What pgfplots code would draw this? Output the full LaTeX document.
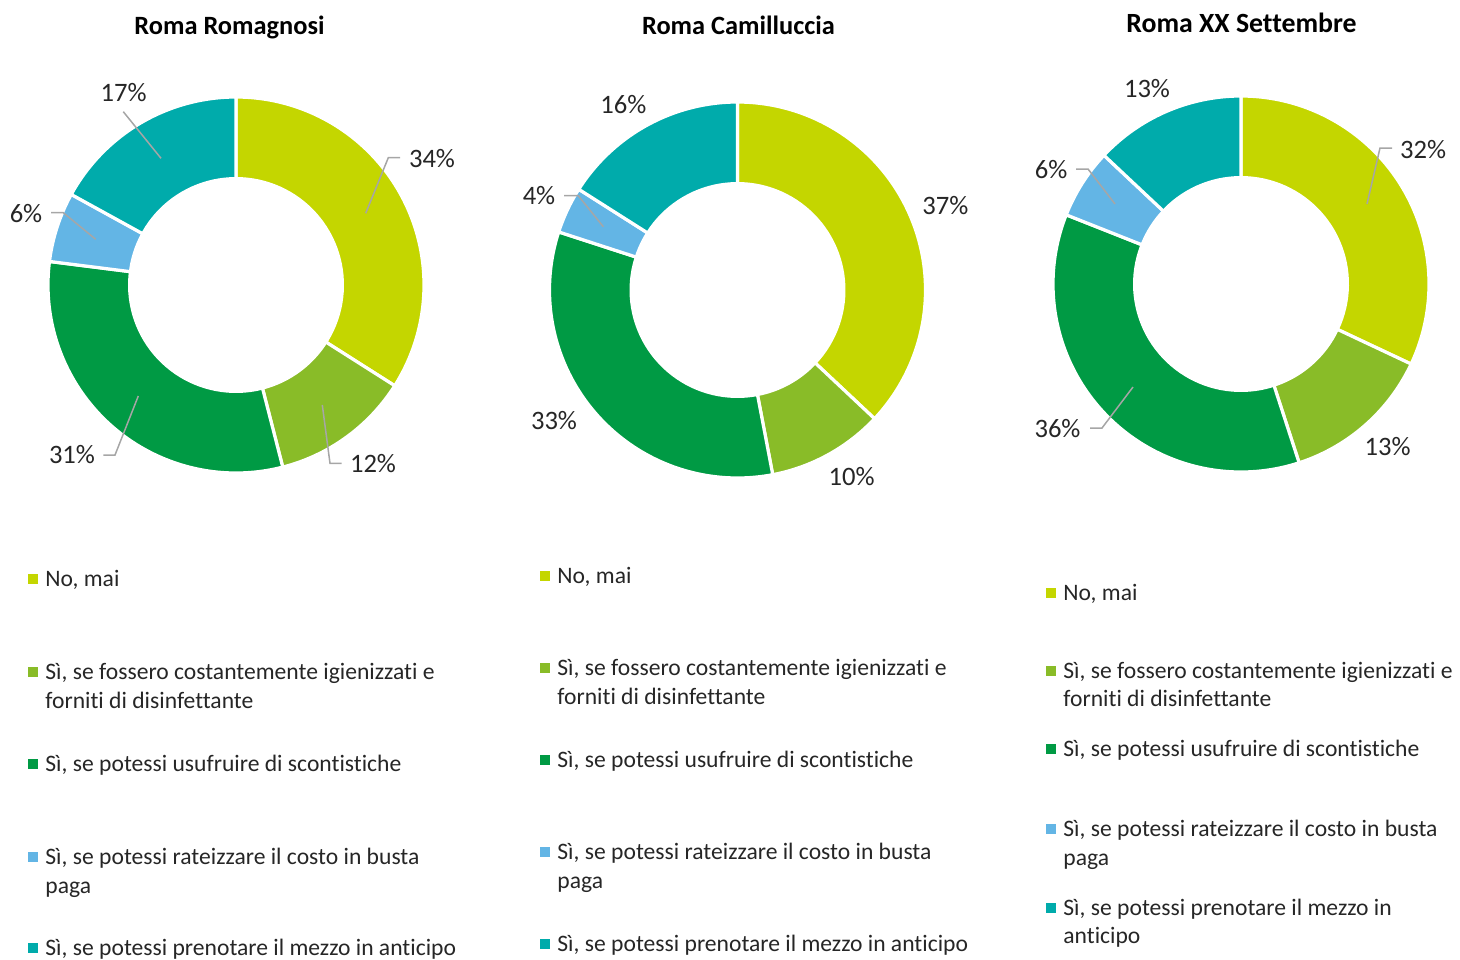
\documentclass[border=0pt]{standalone}
\usepackage{pgfplots}
\pgfplotsset{compat=1.18}
\usepackage{fontspec}
\setmainfont{Carlito}[Ligatures={NoCommon,NoContextual}]
\definecolor{cA}{HTML}{C4D600}
\definecolor{cB}{HTML}{89BC28}
\definecolor{cC}{HTML}{009A44}
\definecolor{cD}{HTML}{63B5E5}
\definecolor{cE}{HTML}{00ABAB}
\definecolor{txt}{HTML}{262626}
\definecolor{lead}{HTML}{A6A6A6}
\newcommand\slice[5]{%
  \edef\tmp{\noexpand\addplot[fill=#5, draw=white, line width=1.6pt, domain=#3:#4, samples=90]
    ({#1+188*sin(x)},{#2-188*cos(x)}) -- (#1,#2) -- cycle;}\tmp}
% \donut{cx}{cy}{No mai}{igienizzati}{scontistiche}{rateizzare}{prenotare}
\newcommand\donut[7]{%
  \pgfmathsetmacro\aA{0}%
  \pgfmathsetmacro\aB{3.6*#3}%
  \pgfmathsetmacro\aC{\aB+3.6*#4}%
  \pgfmathsetmacro\aD{\aC+3.6*#5}%
  \pgfmathsetmacro\aE{\aD+3.6*#6}%
  \pgfmathsetmacro\aF{\aE+3.6*#7}%
  \slice{#1}{#2}{\aA}{\aB}{cA}%
  \slice{#1}{#2}{\aB}{\aC}{cB}%
  \slice{#1}{#2}{\aC}{\aD}{cC}%
  \slice{#1}{#2}{\aD}{\aE}{cD}%
  \slice{#1}{#2}{\aE}{\aF}{cE}%
  \addplot[fill=white, draw=none, domain=0:360, samples=120] ({#1+108*sin(x)},{#2-108*cos(x)}) -- cycle;
}
\newcommand\legsq[3]{\addplot[only marks, mark=square*, mark size=2.25pt, color=#3] coordinates {(#1,#2)};}
\tikzset{lg/.style={anchor=base west, inner sep=0pt, text=txt, font=\fontsize{11.8}{14}\selectfont},
  pc/.style={anchor=base, inner sep=0pt, text=txt, font=\fontsize{13.3}{16}\selectfont},
  tt/.style={anchor=base, inner sep=0pt, text=black, font=\fontsize{13.2}{16}\selectfont\bfseries}}
\begin{document}
\begin{tikzpicture}
\begin{axis}[scale only axis, width=730pt, height=479.5pt, xmin=0, xmax=1460, ymin=0, ymax=959,
  y dir=reverse, hide axis, clip=false]
\coordinate (BL) at (axis cs:0,959);
\coordinate (TR) at (axis cs:1460,0);
% ---------- Roma Romagnosi ----------
\donut{236}{285}{34}{12}{31}{6}{17}
\addplot[lead, line width=0.75pt] coordinates {(365.7,213.3) (388.3,157.7) (400,157.7)};
\addplot[lead, line width=0.75pt] coordinates {(322.3,405) (330,463.3) (341.7,463.3)};
\addplot[lead, line width=0.75pt] coordinates {(138.3,396) (115,455) (103.3,455)};
\addplot[lead, line width=0.75pt] coordinates {(95.7,239.3) (63.3,212.7) (51,212.7)};
\addplot[lead, line width=0.75pt] coordinates {(161,158.3) (123.3,111.7)};
\node[pc] at (axis cs:432,167) {34\%};
\node[pc] at (axis cs:373,472) {12\%};
\node[pc] at (axis cs:72,463) {31\%};
\node[pc] at (axis cs:26,222) {6\%};
\node[pc] at (axis cs:123.7,101) {17\%};
\node[tt] at (axis cs:229.5,34.5) {Roma Romagnosi};
% ---------- Roma Camilluccia ----------
\donut{737.5}{290}{37}{10}{33}{4}{16}
\addplot[lead, line width=0.75pt] coordinates {(564,195.7) (578.3,195.7) (603.3,226.7)};
\node[pc] at (axis cs:945.3,214) {37\%};
\node[pc] at (axis cs:851.7,485) {10\%};
\node[pc] at (axis cs:554,429.3) {33\%};
\node[pc] at (axis cs:539,204) {4\%};
\node[pc] at (axis cs:623.3,113.3) {16\%};
\node[tt] at (axis cs:738.5,34) {Roma Camilluccia};
% ---------- Roma XX Settembre ----------
\donut{1241}{284}{32}{13}{36}{6}{13}
\addplot[lead, line width=0.75pt] coordinates {(1367,204) (1380,148) (1392,148)};
\addplot[lead, line width=0.75pt] coordinates {(1133,387) (1102,428) (1090,428)};
\addplot[lead, line width=0.75pt] coordinates {(1115,204) (1088,169) (1076,169)};
\node[pc] at (axis cs:1423,158.3) {32\%};
\node[pc] at (axis cs:1387.7,455.7) {13\%};
\node[pc] at (axis cs:1057.5,437.3) {36\%};
\node[pc] at (axis cs:1051,178.3) {6\%};
\node[pc] at (axis cs:1147,97.3) {13\%};
\node[tt, font=\fontsize{13.9}{16}\selectfont\bfseries] at (axis cs:1241.5,32.3) {Roma XX Settembre};
% ---------- Legends ----------
\legsq{32.5}{578.5}{cA}\legsq{32.5}{671.5}{cB}\legsq{32.5}{763.5}{cC}\legsq{32.5}{856.5}{cD}\legsq{32.5}{947.5}{cE}
\node[lg] at (axis cs:45,586) {No, mai};
\node[lg] at (axis cs:45,679) {Sì, se fossero costantemente igienizzati e};
\node[lg] at (axis cs:45,708) {forniti di disinfettante};
\node[lg] at (axis cs:45,771) {Sì, se potessi usufruire di scontistiche};
\node[lg] at (axis cs:45,864) {Sì, se potessi rateizzare il costo in busta};
\node[lg] at (axis cs:45,893) {paga};
\node[lg] at (axis cs:45,955) {Sì, se potessi prenotare il mezzo in anticipo};
\legsq{544.5}{575.5}{cA}\legsq{544.5}{667.5}{cB}\legsq{544.5}{759.5}{cC}\legsq{544.5}{851.5}{cD}\legsq{544.5}{943.5}{cE}
\node[lg] at (axis cs:557,583) {No, mai};
\node[lg] at (axis cs:557,675) {Sì, se fossero costantemente igienizzati e};
\node[lg] at (axis cs:557,704) {forniti di disinfettante};
\node[lg] at (axis cs:557,767) {Sì, se potessi usufruire di scontistiche};
\node[lg] at (axis cs:557,859) {Sì, se potessi rateizzare il costo in busta};
\node[lg] at (axis cs:557,888) {paga};
\node[lg] at (axis cs:557,951) {Sì, se potessi prenotare il mezzo in anticipo};
\legsq{1050.5}{592.5}{cA}\legsq{1050.5}{671}{cB}\legsq{1050.5}{749}{cC}\legsq{1050.5}{829}{cD}\legsq{1050.5}{907.5}{cE}
\node[lg] at (axis cs:1063,600) {No, mai};
\node[lg] at (axis cs:1063,678.3) {Sì, se fossero costantemente igienizzati e};
\node[lg] at (axis cs:1063,706.7) {forniti di disinfettante};
\node[lg] at (axis cs:1063,756.7) {Sì, se potessi usufruire di scontistiche};
\node[lg] at (axis cs:1063,836.7) {Sì, se potessi rateizzare il costo in busta};
\node[lg] at (axis cs:1063,865) {paga};
\node[lg] at (axis cs:1063,915) {Sì, se potessi prenotare il mezzo in};
\node[lg] at (axis cs:1063,943.3) {anticipo};
\end{axis}
\pgfresetboundingbox
\path (BL) rectangle (TR);
\end{tikzpicture}
\end{document}
